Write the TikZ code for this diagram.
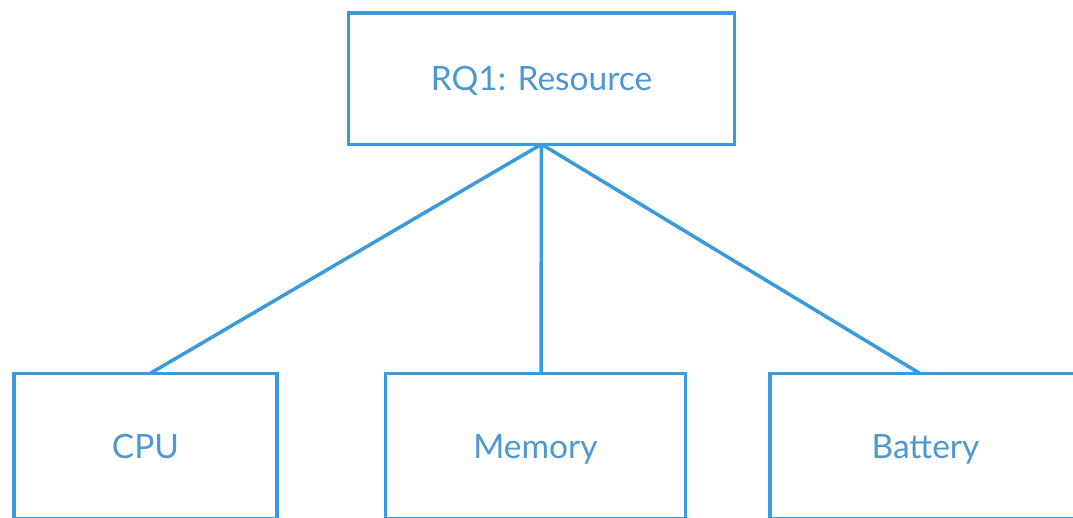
\documentclass[tikz,border=0pt]{standalone}
\usepackage{fontspec}
\setmainfont{Lato}
\definecolor{boxblue}{RGB}{58,154,218}
\definecolor{txtblue}{RGB}{78,152,208}
\begin{document}
\begin{tikzpicture}[x=1pt,y=-1pt,
  box/.style={draw=boxblue, line width=3.5pt, rectangle, outer sep=0pt, inner sep=0pt,
    text=txtblue, font=\fontsize{33.5}{38}\selectfont, text height=24pt, text depth=0pt},
  link/.style={draw=boxblue, line width=3.5pt}]
\useasboundingbox (0,0) rectangle (1073,517);
\clip (0,0) rectangle (1073,517);
\node[box, minimum width=386pt, minimum height=131.5pt] (top) at (541.5,78.5) {RQ1: Resource};
\node[box, minimum width=263pt, minimum height=145pt] (cpu) at (145.5,446) {CPU};
\node[box, minimum width=300pt, minimum height=145pt] (mem) at (535.5,446) {Memory};
\node[box, minimum width=311pt, minimum height=145pt] (bat) at (925.5,446) {Battery};
\draw[link] (top.south) -- ([xshift=4.5pt]cpu.north);
\draw[link] (top.south) -- ([xshift=5.5pt]mem.north);
\draw[link] (top.south) -- ([xshift=-5.5pt]bat.north);
\end{tikzpicture}
\end{document}
